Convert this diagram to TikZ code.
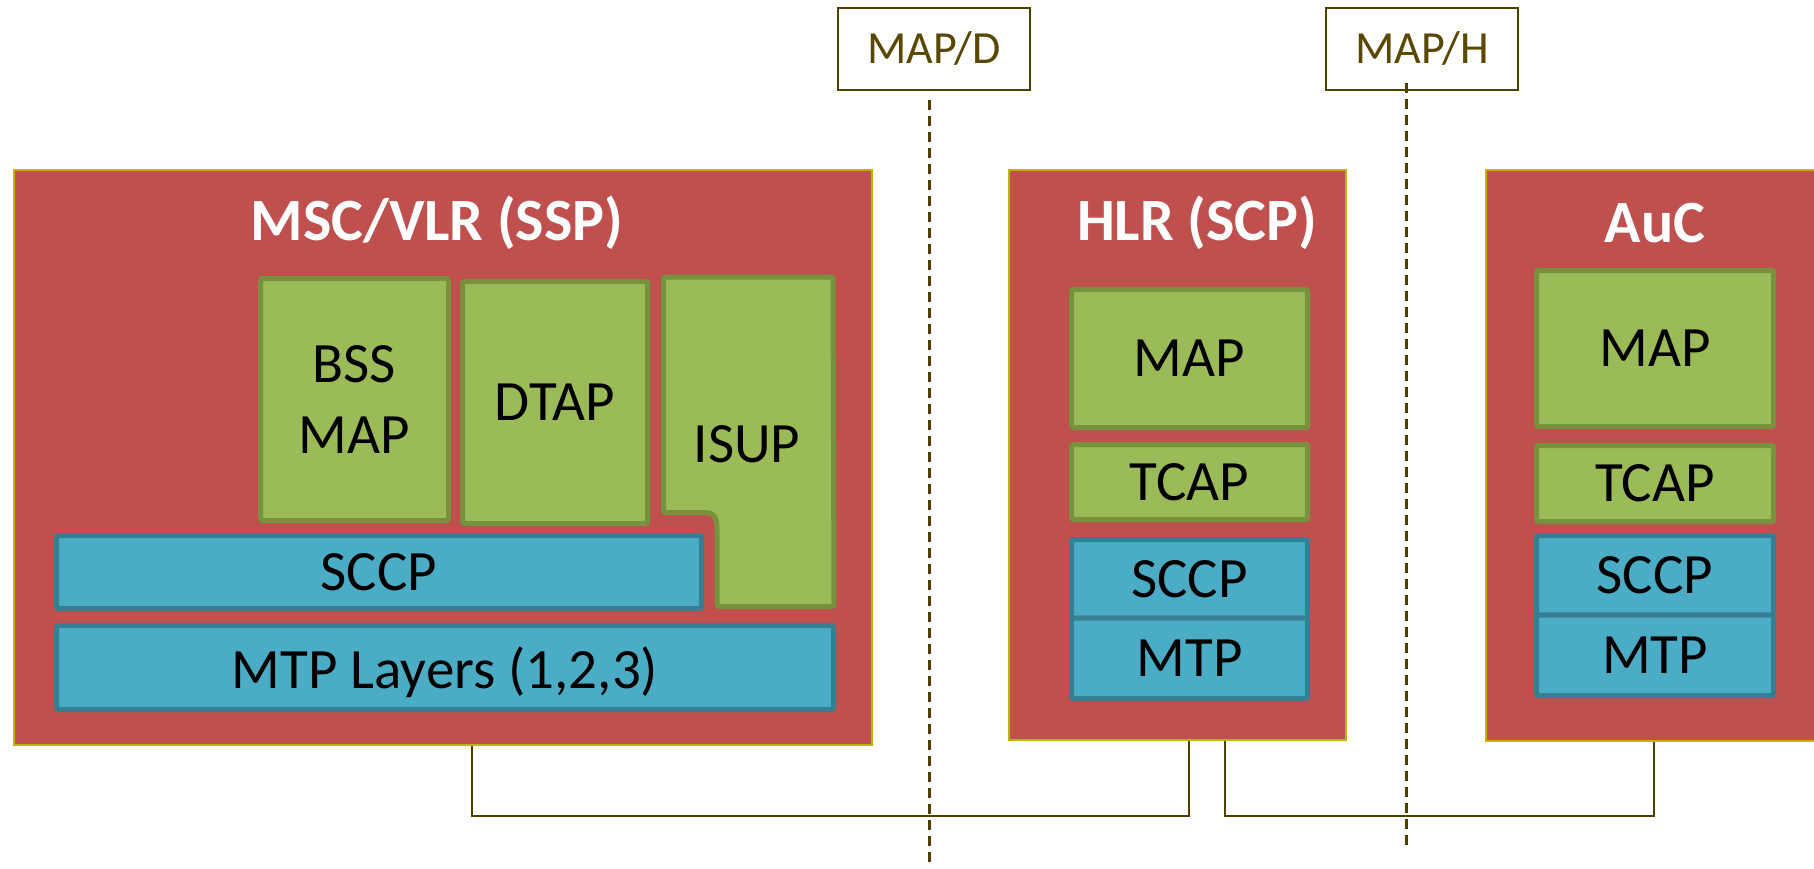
\documentclass[tikz,border=0pt]{standalone}
\usepackage{fontspec}
\setmainfont{Carlito}
\definecolor{redfill}{HTML}{C0504D}
\definecolor{redline}{HTML}{BDB500}
\definecolor{greenfill}{HTML}{9BBB59}
\definecolor{greenline}{HTML}{76923C}
\definecolor{bluefill}{HTML}{4BACC6}
\definecolor{blueline}{HTML}{367F92}
\definecolor{darkline}{HTML}{4F4000}
\definecolor{labeltext}{HTML}{5A4800}
\tikzset{
  redbox/.style={draw=redline, fill=redfill, line width=2.5pt, inner sep=0pt},
  greenbox/.style={draw=greenline, fill=greenfill, line width=5pt, rounded corners=2pt, inner sep=0pt, font=\fontsize{57}{71}\selectfont, align=center},
  bluebox/.style={draw=blueline, fill=bluefill, line width=5pt, rounded corners=2pt, inner sep=0pt, font=\fontsize{57}{71}\selectfont, align=center},
  title/.style={text=white, font=\fontsize{60}{70}\selectfont\bfseries, inner sep=0pt},
  plain/.style={font=\fontsize{57}{71}\selectfont, inner sep=0pt},
  ifacebox/.style={draw=darkline, fill=white, line width=2pt, inner sep=0pt, text=labeltext, font=\fontsize{46}{50}\selectfont, minimum width=192pt, minimum height=82pt},
  dashline/.style={draw=darkline, line width=3pt, dash pattern=on 10pt off 6pt},
  link/.style={draw=darkline, line width=2.5pt}
}
\begin{document}
\begin{tikzpicture}[x=1pt,y=-1pt]
\useasboundingbox (0,0) rectangle (1814,869);

% interface labels and dashed separators
\node[ifacebox] (mapd) at (934,49) {MAP/D};
\node[ifacebox] (maph) at (1422,49) {MAP/H};
\coordinate (dA) at (929,100);
\coordinate (dB) at (929,865);
\coordinate (hA) at (1406,83);
\coordinate (hB) at (1406,845);
\draw[dashline] (dA) -- (dB);
\draw[dashline] (hA) -- (hB);

% MSC/VLR
\node[redbox, minimum width=858pt, minimum height=575pt] (msc) at (443,457.5) {};
\node[title] (msct) at (437,223) {MSC/VLR (SSP)};
\node[greenbox, minimum width=188pt, minimum height=242pt] (bss) at (354.5,399.5) {BSS\\MAP};
\node[greenbox, minimum width=185pt, minimum height=242pt] (dtap) at (555,402.5) {DTAP};
\draw[draw=greenline, fill=greenfill, line width=5pt, rounded corners=2pt]
  (663.5,277) -- (833,277) -- (834,606.5) -- (717,606.5) -- (717,532)
  [sharp corners] .. controls (717,512.5) and (712,512.5) .. (698,512.5)
  [rounded corners=2pt] -- (663.5,512.5) -- cycle;
\node[plain] (isup) at (747,444) {ISUP};
\node[bluebox, minimum width=645pt, minimum height=73pt] (msccp) at (379,572) {SCCP};
\node[bluebox, minimum width=777pt, minimum height=84pt, text depth=0pt] (mscmtp) at (445,667.5) {MTP Layers (1,2,3)};

% HLR
\node[redbox, minimum width=337pt, minimum height=570pt] (hlr) at (1177.5,455) {};
\node[title] (hlrt) at (1197,223) {HLR (SCP)};
\node[greenbox, minimum width=236pt, minimum height=138pt] (hmap) at (1189.5,358.5) {MAP};
\node[greenbox, minimum width=236pt, minimum height=75pt] (htcap) at (1189.5,482) {TCAP};
\node[bluebox, minimum width=236pt, minimum height=78.5pt] (hsccp) at (1189.5,578.75) {SCCP};
\node[bluebox, minimum width=236pt, minimum height=80.5pt] (hmtp) at (1189.5,658.25) {MTP};

% AuC
\node[redbox, minimum width=344pt, minimum height=571pt] (auc) at (1658,455.5) {};
\node[title] (auct) at (1655,223) {AuC};
\node[greenbox, minimum width=237pt, minimum height=156pt] (amap) at (1655,348.5) {MAP};
\node[greenbox, minimum width=237pt, minimum height=76pt] (atcap) at (1655,483.5) {TCAP};
\node[bluebox, minimum width=237pt, minimum height=79.5pt] (asccp) at (1655,575.25) {SCCP};
\node[bluebox, minimum width=237pt, minimum height=80.5pt] (amtp) at (1655,655.25) {MTP};

% links
\coordinate (l1a) at (msc.south -| 472,0);
\coordinate (l1b) at (hlr.south -| 1189,0);
\coordinate (l2a) at (hlr.south -| 1225,0);
\coordinate (l2b) at (auc.south -| 1654,0);
\draw[link] (l1a) |- (1189,816) -- (l1b);
\draw[link] (l2a) |- (1654,816) -- (l2b);
\end{tikzpicture}
\end{document}
